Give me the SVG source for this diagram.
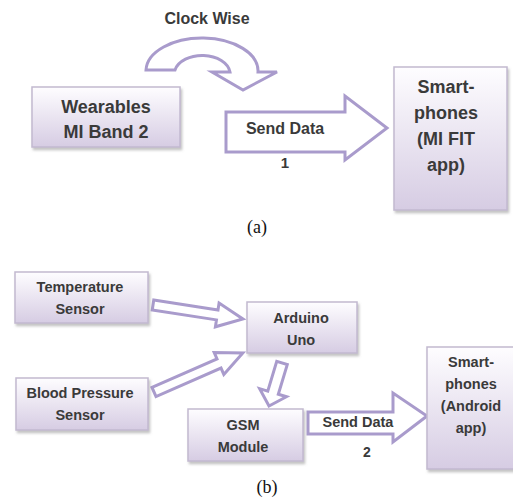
<svg xmlns="http://www.w3.org/2000/svg" width="513" height="502" viewBox="0 0 513 502">
<defs>
<linearGradient id="boxg" x1="0" y1="0" x2="0" y2="1">
<stop offset="0" stop-color="#fefdff"/>
<stop offset="1" stop-color="#d6cce3"/>
</linearGradient>
<filter id="sh" x="-10%" y="-10%" width="130%" height="130%">
<feDropShadow dx="1.5" dy="2.5" stdDeviation="1.2" flood-color="#888" flood-opacity="0.5"/>
</filter>
<style>
.box{fill:url(#boxg);stroke:#c2b9d0;stroke-width:1.5;filter:url(#sh)}
.arr{fill:#fff;stroke:#a99bcc;stroke-width:3;stroke-linejoin:miter}
.t{font-family:"Liberation Sans",Arial,sans-serif;font-weight:bold;fill:#3a3a3a;text-anchor:middle}
.big{font-size:18px}
.sm{font-size:14.5px}
.cap{font-family:"Liberation Serif","Times New Roman",serif;font-size:18px;fill:#111;text-anchor:middle}
</style>
</defs>
<rect width="513" height="502" fill="#fff"/>

<g id="connectors">
<path class="arr" d="M146,70 A56,33 0 0 1 258,72 L277,72 L243,90 L212,72 L230,72 A28,19 0 0 0 175,70 Z"/>
<polygon class="arr" points="226,112 345,112 345,96 387,128 345,160 345,152 226,152"/>
<path class="arr" transform="translate(153,305) rotate(8.8)" d="M0,-5 L65,-5 L65,-12 L91,0 L65,12 L65,5 L0,5 Z"/>
<path class="arr" transform="translate(154,392) rotate(-23.7)" d="M0,-5 L71,-5 L71,-12 L97,0 L71,12 L71,5 L0,5 Z"/>
<path class="arr" transform="translate(282,363) rotate(106.8)" d="M0,-5.5 L31,-5.5 L31,-14 L45,0 L31,14 L31,5.5 L0,5.5 Z"/>
<polygon class="arr" points="308,412 393,412 393,393 427,416 393,442 393,434 308,434"/>
</g>

<g id="labels">
<text class="t" x="207" y="24" font-size="16">Clock Wise</text>
<text class="t" x="285" y="134" font-size="16">Send Data</text>
<text class="t" x="285" y="168" font-size="15">1</text>
<text class="t" x="358" y="427" font-size="14.5">Send Data</text>
<text class="t" x="367" y="457" font-size="14">2</text>
<text class="cap" x="257" y="233">(a)</text>
<text class="cap" x="267" y="493">(b)</text>
</g>

<g id="wearables">
<rect class="box" x="32" y="87" width="148" height="60"/>
<text class="t big" x="106" y="113">Wearables</text>
<text class="t big" x="106" y="138">MI Band 2</text>
</g>

<g id="smartphones-a">
<rect class="box" x="394" y="67" width="113" height="143"/>
<text class="t big" x="446" y="93">Smart-</text>
<text class="t big" x="446" y="119">phones</text>
<text class="t big" x="446" y="145">(MI FIT</text>
<text class="t big" x="446" y="171">app)</text>
</g>

<g id="temperature">
<rect class="box" x="15" y="272" width="133" height="51"/>
<text class="t sm" x="80" y="292">Temperature</text>
<text class="t sm" x="80" y="314">Sensor</text>
</g>

<g id="arduino">
<rect class="box" x="247" y="302" width="110" height="51"/>
<text class="t sm" x="301" y="323">Arduino</text>
<text class="t sm" x="301" y="345">Uno</text>
</g>

<g id="bloodpressure">
<rect class="box" x="16" y="378" width="132" height="52"/>
<text class="t sm" x="80" y="398">Blood Pressure</text>
<text class="t sm" x="80" y="420">Sensor</text>
</g>

<g id="gsm">
<rect class="box" x="188" y="409" width="115" height="52"/>
<text class="t sm" x="243" y="430">GSM</text>
<text class="t sm" x="243" y="452">Module</text>
</g>

<g id="smartphones-b">
<rect class="box" x="427" y="347" width="90" height="122"/>
<text class="t sm" x="471" y="367">Smart-</text>
<text class="t sm" x="471" y="389">phones</text>
<text class="t sm" x="471" y="411">(Android</text>
<text class="t sm" x="471" y="433">app)</text>
</g>
</svg>
